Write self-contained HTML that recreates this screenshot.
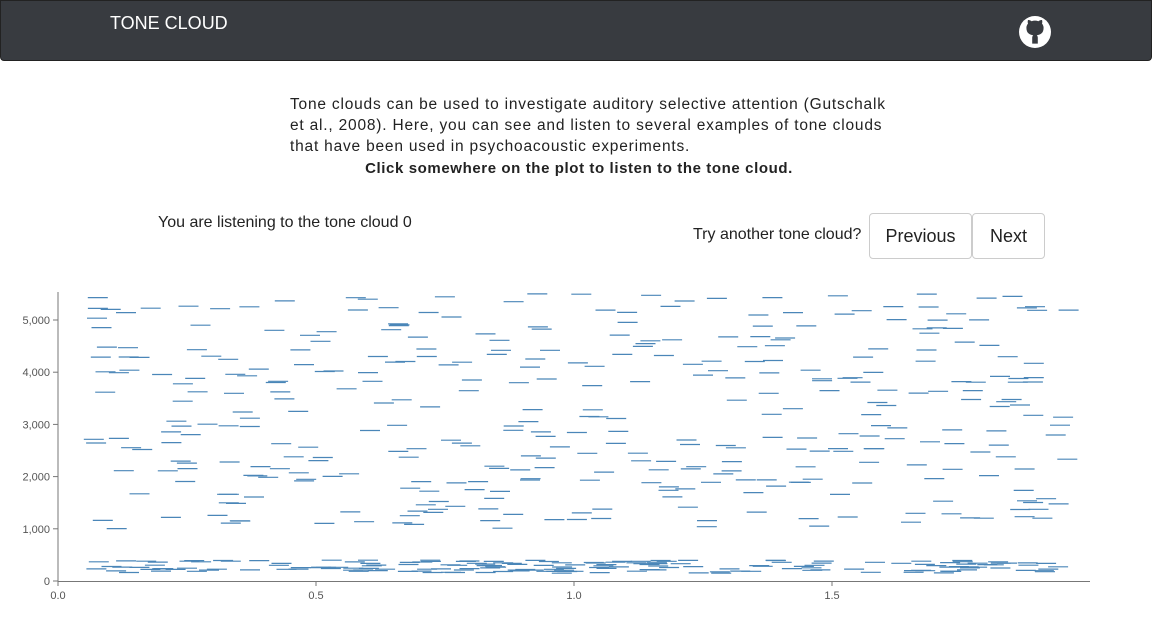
<!DOCTYPE html>
<html><head><meta charset="utf-8"><style>
body{margin:0;width:1152px;height:632px;overflow:hidden;background:#fff;font-family:"Liberation Sans",sans-serif;color:#222;position:relative}
.hdr{position:absolute;left:0;top:0;width:1150px;height:59px;background:#383b40;border:1px solid #222;border-radius:0 0 4px 4px}
.title{position:absolute;left:109px;top:12px;color:#fff;font-size:18px}
.gh{position:absolute;left:1018px;top:15px;width:32px;height:32px;border-radius:50%;background:#fff}
.intro{position:absolute;left:290px;top:94px;width:620px;font-size:15.5px;line-height:21px;color:#222;white-space:nowrap;letter-spacing:0.8px}
.bold{position:absolute;left:290px;top:160px;width:578px;text-align:center;font-weight:bold;font-size:15px;letter-spacing:0.6px}
.lis{position:absolute;left:158px;top:214px;font-size:16px}
.try{position:absolute;left:693px;top:226px;font-size:16px}
.btn{position:absolute;top:213px;height:44px;border:1px solid #ccc;border-radius:4px;font-size:18px;line-height:44px;text-align:center;color:#222}
svg{position:absolute;left:0;top:0}
</style></head><body>
<div class="hdr"><div class="title">TONE CLOUD</div>
<div class="gh"><svg width="32" height="32" viewBox="0 0 16 16" style="position:absolute;left:0;top:0"><path fill="#383b40" d="M8 2.3c-.6 0-1.2.1-1.7.3-.5-.4-1.2-.7-1.8-.6-.2.6-.2 1.2 0 1.8-.5.6-.8 1.3-.8 2.1 0 2.8 1.700 3.5 3.4 3.7-.3.3-.5.7-.5 1.3v2.9h2.8v-2.9c0-.6-.2-1-.5-1.3 1.7-.2 3.4-.9 3.4-3.7 0-.8-.3-1.5-.8-2.1.2-.6.2-1.2 0-1.8-.6-.1-1.3.2-1.8.6-.5-.2-1.1-.3-1.7-.3z"/></svg></div></div>
<div class="intro">Tone clouds can be used to investigate auditory selective attention (Gutschalk<br>et al., 2008). Here, you can see and listen to several examples of tone clouds<br>that have been used in psychoacoustic experiments.</div>
<div class="bold">Click somewhere on the plot to listen to the tone cloud.</div>
<div class="lis">You are listening to the tone cloud 0</div>
<div class="try">Try another tone cloud?</div>
<div class="btn" style="left:869px;width:101px">Previous</div>
<div class="btn" style="left:972px;width:71px">Next</div>
<svg id="p" width="1152" height="632" font-family="Liberation Sans, sans-serif" font-size="11" fill="#555">
<line x1="58" y1="292" x2="58" y2="582" stroke="#777"/>
<line x1="58" y1="581.5" x2="1090" y2="581.5" stroke="#777"/>
<g id="ax"></g><g id="seg" stroke="#4a86b8" stroke-width="1.2"></g>
</svg>
<script>
var ax=document.getElementById('ax'),sg=document.getElementById('seg'),h='';
[0,1000,2000,3000,4000,5000].forEach(function(v){var y=581-v*0.0522;h+='<line x1="53" x2="58" y1="'+y+'" y2="'+y+'" stroke="#777"/><text x="50" y="'+(y+4)+'" text-anchor="end">'+(v?v.toLocaleString('en-US'):'0')+'</text>';});
[0,0.5,1,1.5].forEach(function(v){var x=58+v*516;h+='<line x1="'+x+'" x2="'+x+'" y1="581" y2="586" stroke="#777"/><text x="'+x+'" y="599" text-anchor="middle">'+v.toFixed(1)+'</text>';});
ax.innerHTML=h;
var s=12345;function r(){s=(s*16807)%2147483647;return s/2147483647;}
var g='';
for(var i=0;i<560;i++){var x=0.05+r()*1.9,f;
 if(r()<0.33)f=150+r()*250;else f=1000+r()*4500;
 var px=58+x*516,py=581-f*0.0522;
 g+='<line x1="'+px.toFixed(1)+'" x2="'+(px+20).toFixed(1)+'" y1="'+py.toFixed(1)+'" y2="'+py.toFixed(1)+'"/>';}
sg.innerHTML=g;
</script>
</body></html>
